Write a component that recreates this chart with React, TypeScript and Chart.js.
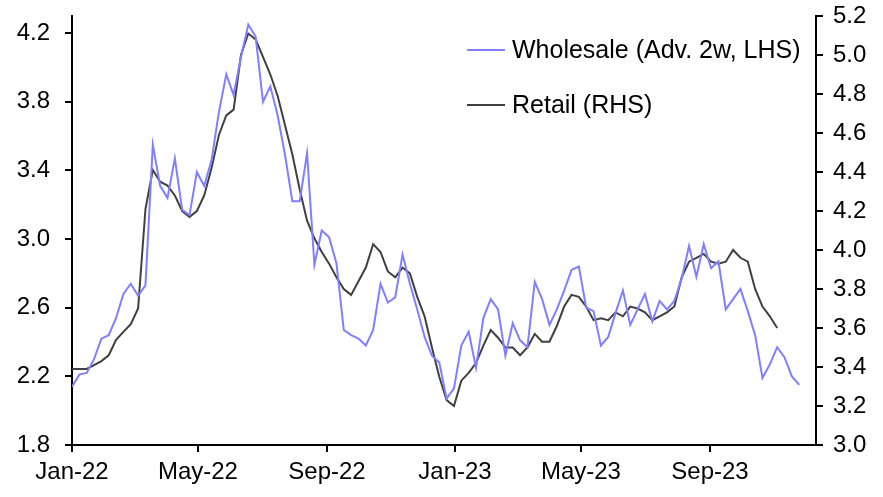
import React, { useEffect, useRef } from 'react';
import { Chart, registerables } from 'chart.js';

Chart.register(...registerables);

// Weekly observations; x = days since 1 Jan 2022
const startDay = 0;
const weekStep = 7;
const xMaxDay = 709;

const wholesale = [
  2.14, 2.21, 2.22, 2.30, 2.42, 2.44, 2.54, 2.68, 2.74, 2.67,
  2.73, 3.55, 3.31, 3.24, 3.47, 3.17, 3.14, 3.39, 3.31, 3.46,
  3.74, 3.96, 3.84, 4.06, 4.25, 4.18, 3.80, 3.89, 3.72, 3.49,
  3.22, 3.22, 3.50, 2.85, 3.05, 3.01, 2.86, 2.47, 2.44, 2.42,
  2.38, 2.47, 2.74, 2.63, 2.66, 2.91, 2.74, 2.59, 2.43, 2.32,
  2.28, 2.07, 2.13, 2.38, 2.46, 2.25, 2.54, 2.65, 2.59, 2.32,
  2.51, 2.41, 2.37, 2.75, 2.65, 2.50, 2.59, 2.70, 2.82, 2.84,
  2.60, 2.58, 2.38, 2.43, 2.57, 2.70, 2.50, 2.59, 2.68, 2.52,
  2.64, 2.59, 2.64, 2.77, 2.96, 2.78, 2.97, 2.83, 2.87, 2.59,
  2.65, 2.71, 2.58, 2.44, 2.19, 2.27, 2.37, 2.31, 2.20, 2.15,
];

const retail = [
  3.39, 3.39, 3.39, 3.41, 3.43, 3.46, 3.54, 3.58, 3.62, 3.70,
  4.21, 4.41, 4.35, 4.33, 4.28, 4.20, 4.17, 4.20, 4.28, 4.42,
  4.59, 4.69, 4.72, 5.00, 5.11, 5.08, 4.99, 4.90, 4.79, 4.64,
  4.49, 4.31, 4.15, 4.06, 3.99, 3.93, 3.86, 3.80, 3.77, 3.84,
  3.91, 4.03, 3.99, 3.89, 3.86, 3.91, 3.88, 3.76, 3.66, 3.50,
  3.35, 3.23, 3.20, 3.33, 3.37, 3.42, 3.51, 3.59, 3.55, 3.50,
  3.50, 3.46, 3.50, 3.57, 3.53, 3.53, 3.61, 3.71, 3.77, 3.76,
  3.71, 3.64, 3.65, 3.64, 3.68, 3.66, 3.71, 3.70, 3.68, 3.64,
  3.66, 3.68, 3.71, 3.86, 3.94, 3.96, 3.98, 3.94, 3.93, 3.94,
  4.00, 3.96, 3.94, 3.80, 3.71, 3.66, 3.60,
];

const xTickDays = [0, 120, 243, 365, 485, 608];
const xTickLabels = ['Jan-22', 'May-22', 'Sep-22', 'Jan-23', 'May-23', 'Sep-23'];
const leftTicks = [1.8, 2.2, 2.6, 3.0, 3.4, 3.8, 4.2];
const rightTicks = [3.0, 3.2, 3.4, 3.6, 3.8, 4.0, 4.2, 4.4, 4.6, 4.8, 5.0, 5.2];
const seriesLabels = ['Wholesale (Adv. 2w, LHS)', 'Retail (RHS)'];
const seriesColors = ['#7f7fff', '#404040'];

const FONT = '"Liberation Sans", Arial, sans-serif';

const toPoints = (vals: number[]) =>
  vals.map((v, i) => ({ x: startDay + i * weekStep, y: v }));

const legendPlugin = {
  id: 'insideLegend',
  afterDatasetsDraw(chart: any) {
    const { ctx, chartArea } = chart;
    ctx.save();
    ctx.font = `25px ${FONT}`;
    ctx.textBaseline = 'middle';
    ctx.textAlign = 'left';
    chart.data.datasets.forEach((ds: any, i: number) => {
      const y = chartArea.top + 34 + i * 55;
      const x0 = chartArea.left + 395;
      ctx.strokeStyle = ds.borderColor;
      ctx.lineWidth = ds.borderWidth;
      ctx.beginPath();
      ctx.moveTo(x0, y);
      ctx.lineTo(x0 + 38, y);
      ctx.stroke();
      ctx.fillStyle = '#000';
      ctx.fillText(ds.label, x0 + 45, y + 1);
    });
    ctx.restore();
  },
};

const axisGrid = {
  display: true,
  drawOnChartArea: false,
  drawTicks: true,
  tickLength: 7,
  color: '#000',
  lineWidth: 2,
};

export default function App() {
  const ref = useRef<HTMLCanvasElement | null>(null);

  useEffect(() => {
    if (!ref.current) return;
    const chart = new Chart(ref.current, {
      type: 'line',
      data: {
        datasets: [
          {
            label: seriesLabels[0],
            data: toPoints(wholesale),
            borderColor: seriesColors[0],
            backgroundColor: seriesColors[0],
            borderWidth: 2,
            pointRadius: 0,
            tension: 0,
            yAxisID: 'y',
          },
          {
            label: seriesLabels[1],
            data: toPoints(retail),
            borderColor: seriesColors[1],
            backgroundColor: seriesColors[1],
            borderWidth: 2,
            pointRadius: 0,
            tension: 0,
            yAxisID: 'y1',
          },
        ],
      },
      options: {
        animation: false,
        responsive: false,
        devicePixelRatio: 1,
        layout: { padding: { top: 16, left: 0, right: 0, bottom: 0 } },
        plugins: { legend: { display: false }, tooltip: { enabled: false } },
        scales: {
          x: {
            type: 'linear',
            position: 'bottom',
            min: 0,
            max: xMaxDay,
            afterBuildTicks: (axis: any) => {
              axis.ticks = xTickDays.map((v) => ({ value: v }));
            },
            afterFit: (s: any) => {
              s.height = 52;
              s.paddingLeft = 0;
              s.paddingRight = 0;
            },
            ticks: {
              autoSkip: false,
              maxRotation: 0,
              minRotation: 0,
              padding: 6,
              color: '#000',
              font: { family: FONT, size: 24 },
              callback: (v: any) => {
                const idx = xTickDays.indexOf(Number(v));
                return idx >= 0 ? xTickLabels[idx] : '';
              },
            },
            grid: axisGrid,
            border: { display: true, color: '#000', width: 2 },
          },
          y: {
            type: 'linear',
            position: 'left',
            min: 1.8,
            max: 4.3,
            afterBuildTicks: (axis: any) => {
              axis.ticks = leftTicks.map((v) => ({ value: v }));
            },
            afterFit: (s: any) => {
              s.width = 72;
              s.paddingTop = 0;
              s.paddingBottom = 0;
            },
            ticks: {
              padding: 15,
              color: '#000',
              font: { family: FONT, size: 24 },
              callback: (v: any) => Number(v).toFixed(1),
            },
            grid: axisGrid,
            border: { display: true, color: '#000', width: 2 },
          },
          y1: {
            type: 'linear',
            position: 'right',
            min: 3.0,
            max: 5.2,
            afterBuildTicks: (axis: any) => {
              axis.ticks = rightTicks.map((v) => ({ value: v }));
            },
            afterFit: (s: any) => {
              s.width = 67;
              s.paddingTop = 0;
              s.paddingBottom = 0;
            },
            ticks: {
              padding: 10,
              color: '#000',
              font: { family: FONT, size: 24 },
              callback: (v: any) => Number(v).toFixed(1),
            },
            grid: axisGrid,
            border: { display: true, color: '#000', width: 2 },
          },
        },
      },
      plugins: [legendPlugin],
    } as any);
    return () => chart.destroy();
  }, []);

  return (
    <div style={{ position: 'absolute', left: 0, top: 0, width: 883, height: 497, background: '#fff' }}>
      <canvas ref={ref} width={883} height={497} />
    </div>
  );
}
